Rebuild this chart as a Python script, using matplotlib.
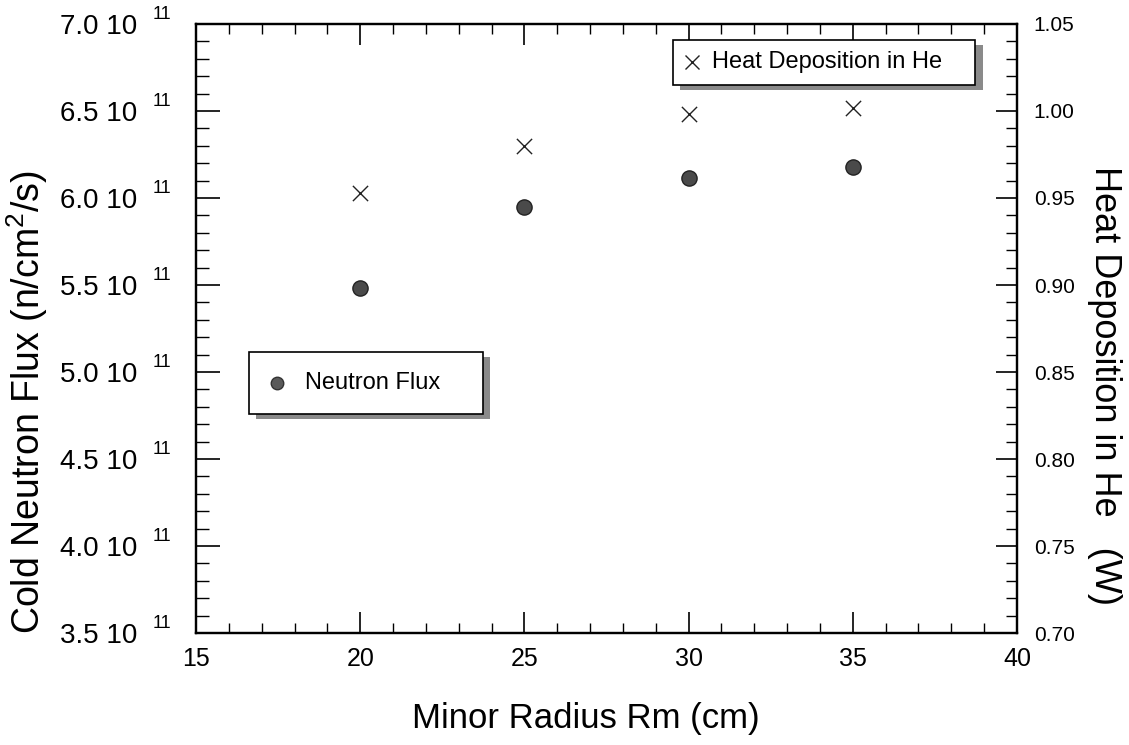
import matplotlib
matplotlib.use('Agg')
import matplotlib.pyplot as plt
from matplotlib.patches import Rectangle
from matplotlib.ticker import MultipleLocator, FuncFormatter
from matplotlib.transforms import blended_transform_factory

plt.rcParams['font.family'] = ['Liberation Sans', 'DejaVu Sans']

# data
radius = [20, 25, 30, 35]
neutron_flux = [5.48e11, 5.95e11, 6.115e11, 6.18e11]
heat_dep = [0.953, 0.980, 0.998, 1.002]
flux_ticks = [3.5e11, 4.0e11, 4.5e11, 5.0e11, 5.5e11, 6.0e11, 6.5e11, 7.0e11]

fig = plt.figure(figsize=(11.29, 7.45), dpi=100)
ax = fig.add_axes([0.1736, 0.1503, 0.7272, 0.8175])
ax2 = ax.twinx()

ax.scatter(radius, neutron_flux, s=120, color='#4a4a4a', edgecolors='#222222', linewidths=1, zorder=3)
ax2.scatter(radius, heat_dep, s=120, marker='x', color='#222222', linewidths=1.0, zorder=3)

ax.set_xlim(15, 40)
ax.set_ylim(3.5e11, 7.0e11)
ax2.set_ylim(0.70, 1.05)

ax.xaxis.set_major_locator(MultipleLocator(5))
ax.xaxis.set_minor_locator(MultipleLocator(1))
ax.set_yticks(flux_ticks)
ax.yaxis.set_minor_locator(MultipleLocator(0.1e11))
ax2.yaxis.set_major_locator(MultipleLocator(0.05))
ax2.yaxis.set_minor_locator(MultipleLocator(0.01))

# mantissa as tick label, the exponent is placed separately as a raised "11"
ax.yaxis.set_major_formatter(FuncFormatter(lambda v, p: '%.1f 10' % (v / 1e11)))
ax2.yaxis.set_major_formatter(FuncFormatter(lambda v, p: '%.2f' % v))
trans = blended_transform_factory(ax.transAxes, ax.transData)
for v in flux_ticks:
    ax.annotate('11', xy=(0, v), xycoords=trans, xytext=(-31.5, 6.5), textcoords='offset points',
                ha='left', va='center', fontsize=13)

ax.tick_params(axis='x', which='major', direction='in', length=15, width=1.2, labelsize=18, pad=10, top=True)
ax.tick_params(axis='x', which='minor', direction='in', length=7, width=1, top=True)
ax.tick_params(axis='y', which='major', direction='in', length=17, width=1.2, labelsize=20, pad=42, right=False)
ax.tick_params(axis='y', which='minor', direction='in', length=9, width=1, right=False)
ax2.tick_params(axis='y', which='major', direction='in', length=15, width=1.2, labelsize=15, pad=12)
ax2.tick_params(axis='y', which='minor', direction='in', length=8, width=1)

for a in (ax, ax2):
    for s in a.spines.values():
        s.set_linewidth(1.6)

ax.set_xlabel('Minor Radius Rm (cm)', fontsize=25)
ax.set_ylabel('Cold Neutron Flux (n/cm$\\mathregular{^2}$/s)', fontsize=27)
ax2.set_ylabel('Heat Deposition in He   (W)', fontsize=26, rotation=-90)
for lab in (ax.xaxis.label, ax.yaxis.label, ax2.yaxis.label):
    lab.set_va('center')
    lab.set_ha('center')
    lab.set_rotation_mode('default')
ax.xaxis.set_label_coords(0.475, -0.141)
ax.yaxis.set_label_coords(-0.206, 0.379)
ax2.yaxis.set_label_coords(1.106, 0.407)


def legend_box(a, x0, y0, w, h, marker, mx, tx, label):
    # boxed label with a grey drop shadow, in axes fraction
    a.add_patch(Rectangle((x0 + 0.009, y0 - 0.009), w, h, transform=a.transAxes,
                          facecolor='#8a8a8a', edgecolor='none', zorder=4, clip_on=False))
    a.add_patch(Rectangle((x0, y0), w, h, transform=a.transAxes,
                          facecolor='white', edgecolor='black', linewidth=1.2, zorder=5, clip_on=False))
    if marker == 'o':
        a.plot(x0 + mx, y0 + h / 2, 'o', ms=9, color='#5a5a5a', mec='#333333',
               transform=a.transAxes, zorder=6, clip_on=False)
    else:
        a.plot(x0 + mx, y0 + h / 2, 'x', ms=10, color='#222222', mew=1,
               transform=a.transAxes, zorder=6, clip_on=False)
    a.text(x0 + tx, y0 + h / 2, label, transform=a.transAxes,
           fontsize=17, va='center', ha='left', zorder=6)


legend_box(ax2, 0.581, 0.900, 0.368, 0.074, 'x', 0.023, 0.048, 'Heat Deposition in He')
legend_box(ax2, 0.064, 0.360, 0.285, 0.102, 'o', 0.035, 0.069, 'Neutron Flux')

fig.savefig('out.png', dpi=100)
